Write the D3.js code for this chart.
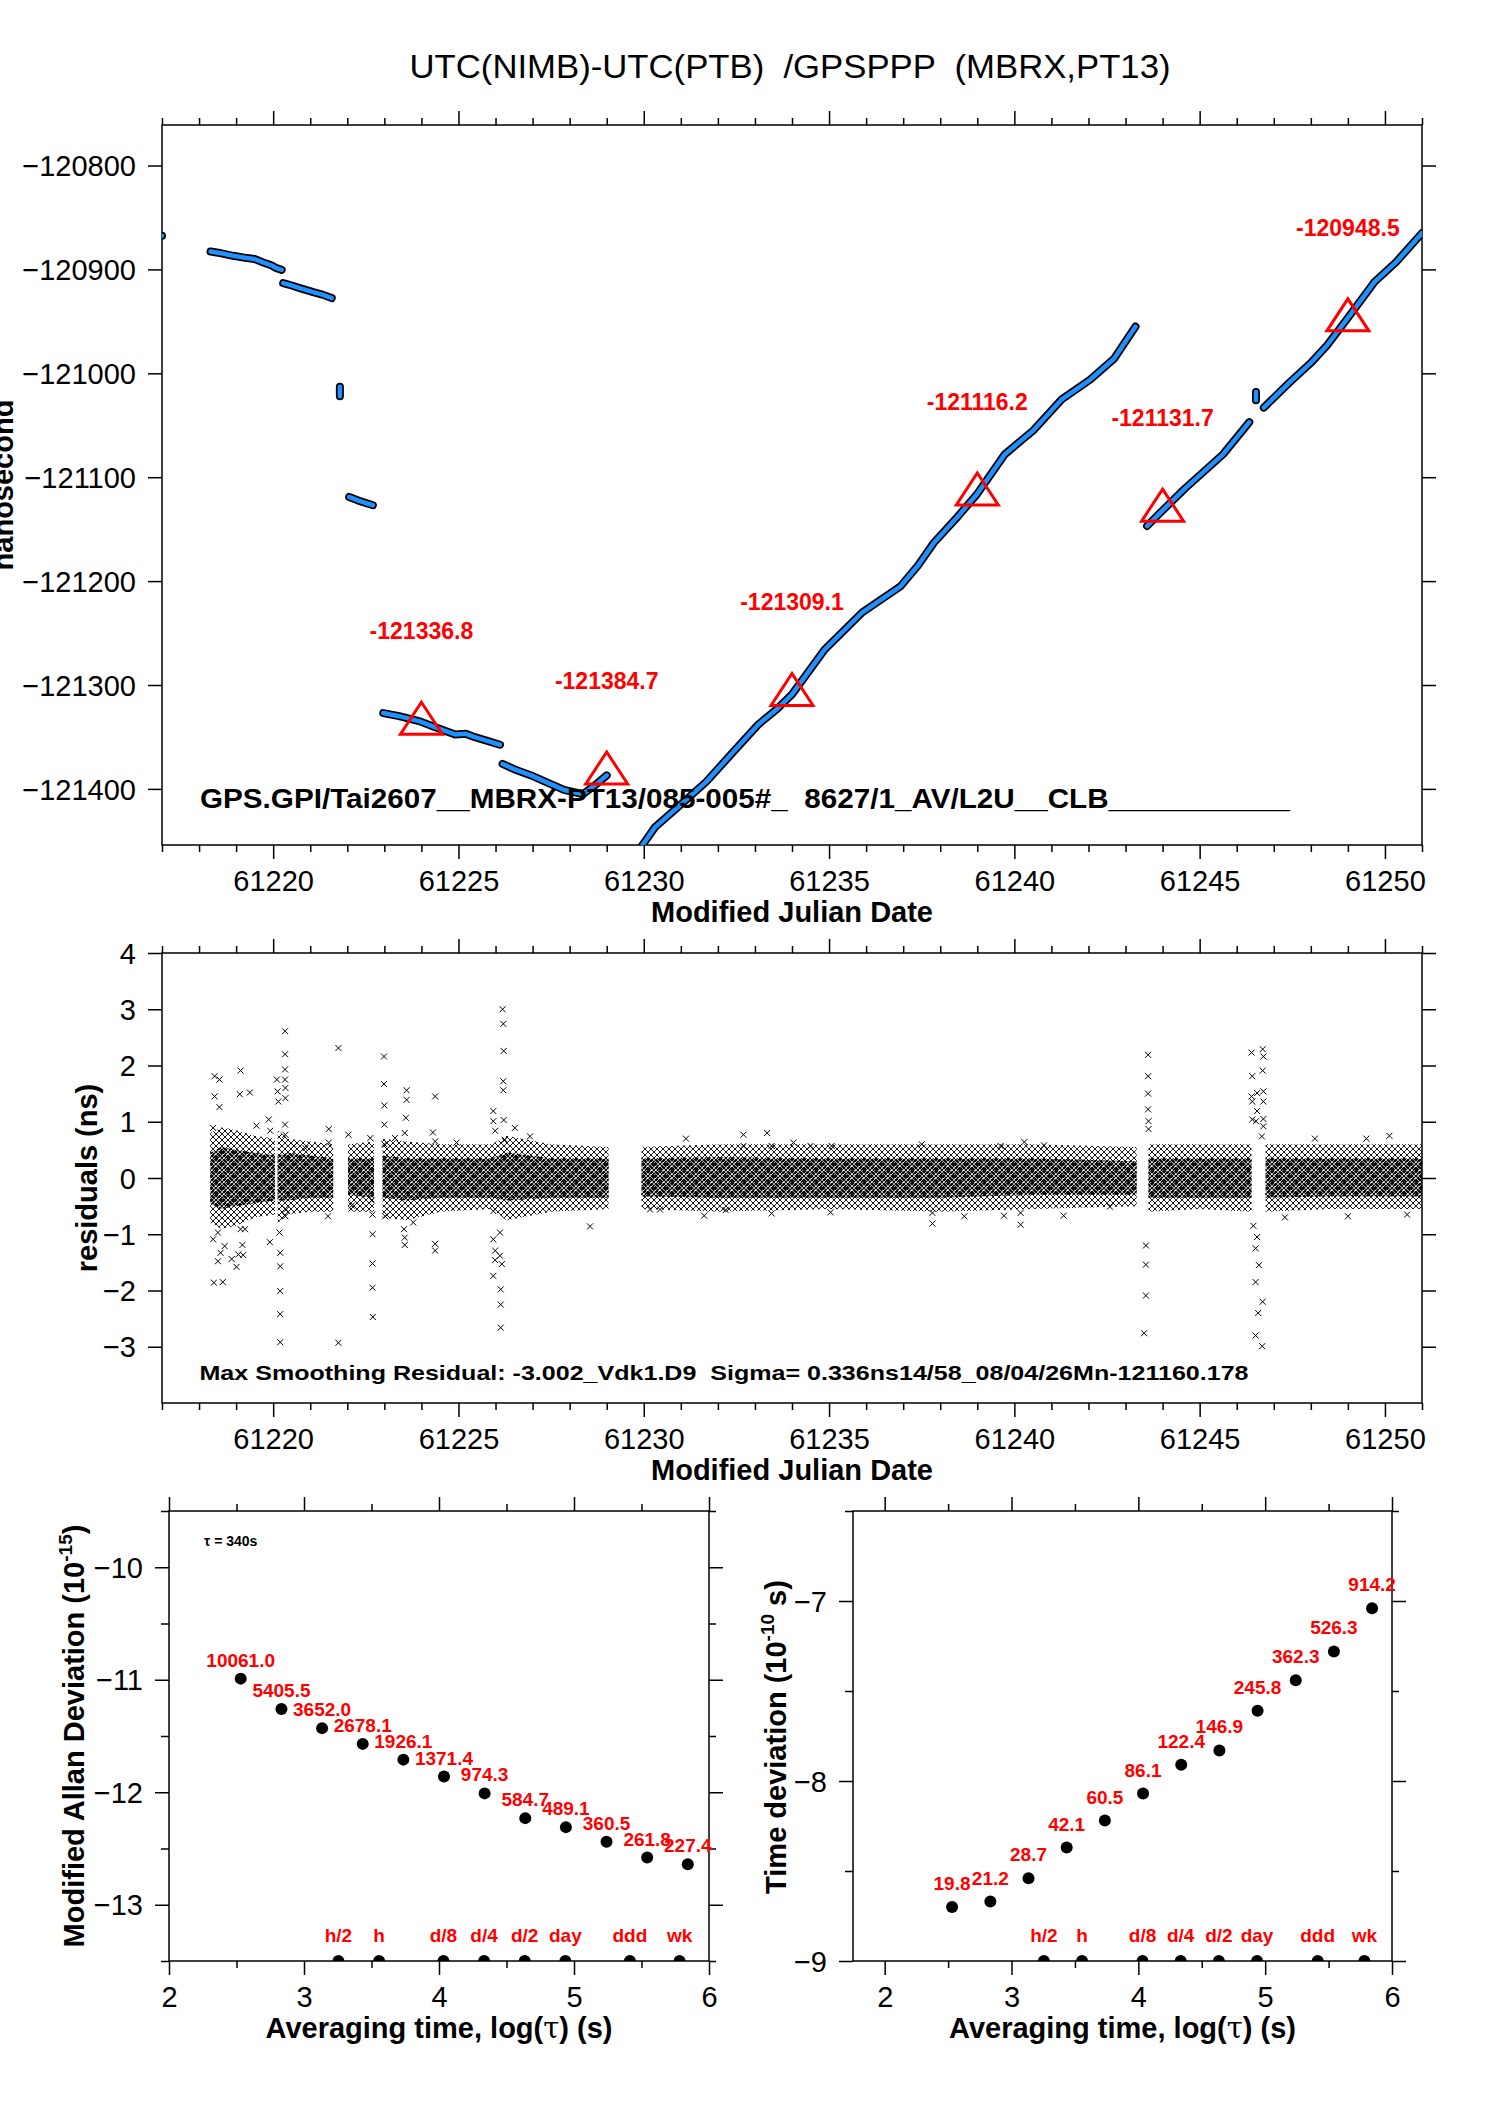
<!DOCTYPE html>
<html>
<head>
<meta charset="utf-8">
<script src="https://cdn.jsdelivr.net/npm/d3@7"></script>
<style>
body { margin: 0; background: #fff; }
svg { display: block; font-family: "Liberation Sans", Arial, sans-serif; }
</style>
</head>
<body>
<svg id="chart" width="1488" height="2105"></svg>
<script>
// ---- data ----
var titleText = "UTC(NIMB)-UTC(PTB)  /GPSPPP  (MBRX,PT13)";
var fileText = "GPS.GPI/Tai2607__MBRX-PT13/085-005#_  8627/1_AV/L2U__CLB___________";
var residText = "Max Smoothing Residual: -3.002_Vdk1.D9  Sigma= 0.336ns14/58_08/04/26Mn-121160.178";

var mjdMajor = [61220, 61225, 61230, 61235, 61240, 61245, 61250];
var nsTicks = [-121400, -121300, -121200, -121100, -121000, -120900, -120800];
var residTicks = [-3, -2, -1, 0, 1, 2, 3, 4];

// UTC(NIMB)-UTC(PTB) segments [mjd, ns]
var tsSegments = [
    [[61217.0, -120867.7]],
    [[61218.31, -120882.8], [61218.6, -120884.5], [61218.92, -120886.9], [61219.29, -120889.1], [61219.5, -120890], [61219.73, -120893.3], [61219.95, -120896], [61220.09, -120898.8], [61220.23, -120900.4]],
    [[61220.27, -120913.2], [61220.5, -120915.5], [61220.72, -120918], [61221.08, -120921.9], [61221.35, -120924.5], [61221.58, -120927.6]],
    [[61221.80, -121013], [61221.80, -121022]],
    [[61222.05, -121119], [61222.3, -121122.5], [61222.69, -121127]],
    [[61222.97, -121327], [61223.4, -121330], [61223.96, -121335], [61224.32, -121340], [61224.91, -121347.6], [61225.2, -121347], [61225.42, -121350], [61225.8, -121354], [61226.12, -121357.5]],
    [[61226.19, -121376], [61226.5, -121381], [61226.96, -121387], [61227.4, -121394], [61227.85, -121401], [61228.36, -121405], [61228.7, -121396], [61229.0, -121387]],
    [[61229.85, -121460], [61230.3, -121437], [61231.0, -121415], [61231.69, -121393], [61232.4, -121365], [61233.09, -121338], [61233.6, -121323], [61234.0, -121309], [61234.88, -121266], [61235.9, -121230], [61236.93, -121205], [61237.4, -121185], [61237.83, -121163], [61238.47, -121138], [61239.0, -121116], [61239.74, -121078], [61240.51, -121055], [61241.28, -121025], [61242.05, -121006], [61242.69, -120986], [61243.27, -120955]],
    [[61243.58, -121147], [61244.0, -121132], [61244.6, -121111], [61245.63, -121078], [61246.34, -121047]],
    [[61246.52, -121018], [61246.52, -121026]],
    [[61246.73, -121033], [61247.42, -121009], [61248.0, -120990], [61248.44, -120973], [61248.95, -120949], [61249.72, -120912], [61250.3, -120893], [61251.0, -120865]]
];

var markMjd = [61224, 61229, 61234, 61239, 61244, 61249];
var markNs = [-121336.8, -121384.7, -121309.1, -121116.2, -121131.7, -120948.5];

// residual band rows: [mjd, outerLo, outerHi, coreLo, coreHi]
var residBands = [
    [[61218.30, -0.8, 0.8, -0.45, 0.45], [61218.6, -0.9, 0.9, -0.55, 0.55], [61219.0, -0.85, 0.85, -0.5, 0.5], [61219.5, -0.7, 0.75, -0.45, 0.45], [61220.05, -0.65, 0.7, -0.4, 0.4]],
    [[61220.12, -0.8, 0.85, -0.4, 0.4], [61220.4, -0.65, 0.7, -0.4, 0.45], [61221.0, -0.6, 0.65, -0.35, 0.4], [61221.62, -0.6, 0.6, -0.35, 0.35]],
    [[61222.02, -0.6, 0.6, -0.3, 0.35], [61222.72, -0.6, 0.65, -0.35, 0.35]],
    [[61222.95, -0.7, 0.7, -0.35, 0.4], [61223.6, -0.75, 0.65, -0.4, 0.35], [61224.5, -0.6, 0.6, -0.35, 0.35], [61225.9, -0.55, 0.6, -0.35, 0.35], [61226.3, -0.75, 0.75, -0.4, 0.45], [61227.5, -0.6, 0.6, -0.35, 0.35], [61229.05, -0.55, 0.55, -0.35, 0.35]],
    [[61229.94, -0.55, 0.55, -0.33, 0.35], [61232, -0.6, 0.6, -0.35, 0.37], [61235, -0.55, 0.6, -0.35, 0.35], [61238, -0.6, 0.6, -0.35, 0.35], [61240.5, -0.55, 0.6, -0.3, 0.35], [61243.30, -0.5, 0.55, -0.3, 0.3]],
    [[61243.62, -0.6, 0.6, -0.35, 0.35], [61245, -0.55, 0.6, -0.35, 0.35], [61246.40, -0.6, 0.6, -0.35, 0.35]],
    [[61246.78, -0.6, 0.6, -0.35, 0.35], [61248.5, -0.55, 0.6, -0.33, 0.35], [61251, -0.55, 0.6, -0.33, 0.35]]
];

// single residuals standing out of the band [mjd, ns]
var residOutliers = [
    [61218.42, 1.81], [61218.55, 1.75], [61218.42, 1.45], [61218.55, 1.26], [61219.12, 1.91], [61219.10, 1.49], [61219.37, 1.52], [61218.38, 0.89], [61219.55, 0.93], [61219.88, 1.04], [61219.92, 0.84],
    [61220.10, 1.75], [61220.12, 1.54], [61220.14, 1.36], [61220.32, 2.61], [61220.32, 2.20], [61220.32, 1.93], [61220.32, 1.75], [61220.33, 1.60], [61220.33, 1.42], [61220.32, 0.95], [61220.33, 0.77],
    [61218.38, -1.09], [61218.51, -0.97], [61218.69, -1.21], [61218.51, -1.48], [61218.58, -1.33], [61218.40, -1.86], [61218.64, -1.85], [61218.88, -1.44], [61219.01, -1.58], [61219.06, -1.36], [61219.17, -1.19], [61219.19, -1.37], [61219.12, -0.91], [61219.24, -0.91], [61219.91, -1.14],
    [61220.17, -0.97], [61220.19, -1.33], [61220.19, -1.57], [61220.19, -2.01], [61220.19, -2.42], [61220.19, -2.92], [61220.33, -0.68], [61220.35, -0.56], [61220.56, 0.57], [61220.87, 0.53], [61221.50, 0.87], [61221.50, 0.63], [61221.48, -0.68],
    [61221.76, 2.31], [61221.76, -2.93], [61222.03, 0.77], [61222.12, -0.49], [61222.62, 0.71], [61222.66, -0.40], [61222.68, -0.65], [61222.68, -1.00], [61222.68, -1.52], [61222.68, -1.95], [61222.69, -2.47],
    [61222.99, 2.16], [61222.99, 1.67], [61223.00, 1.29], [61223.00, 0.95], [61223.00, 0.60], [61223.02, -0.68], [61223.29, 0.71], [61223.60, 1.56], [61223.60, 1.39], [61223.58, 1.07], [61223.55, 0.80], [61223.53, -0.91], [61223.55, -1.06], [61223.55, -1.19], [61223.78, -0.79],
    [61224.37, 1.45], [61224.31, 0.81], [61224.37, 0.65], [61224.37, -1.17], [61224.37, -1.29], [61224.95, 0.63],
    [61225.94, 1.19], [61225.94, 1.01], [61225.99, 0.84], [61226.19, 3.00], [61226.21, 2.74], [61226.22, 2.26], [61226.21, 1.72], [61226.21, 1.56], [61226.22, 1.03], [61226.25, 0.68], [61226.52, 0.89], [61226.93, 0.74],
    [61225.94, -0.59], [61225.94, -1.09], [61225.99, -1.29], [61225.99, -1.46], [61226.12, -0.97], [61226.12, -1.38], [61226.17, -1.53], [61225.94, -1.74], [61226.14, -1.98], [61226.14, -2.25], [61226.14, -2.66], [61228.55, -0.86],
    [61231.14, 0.70], [61232.69, 0.77], [61232.69, 0.57], [61233.33, 0.80], [61233.45, 0.57], [61234.04, 0.63], [61234.50, 0.57], [61235.07, 0.57], [61237.50, 0.60], [61239.63, 0.57], [61240.27, 0.64], [61240.80, 0.58],
    [61230.17, -0.56], [61230.44, -0.56], [61231.63, -0.67], [61232.21, -0.57], [61233.45, -0.63], [61235.04, -0.61], [61237.79, -0.81], [61237.79, -0.62], [61238.65, -0.68], [61239.72, -0.67], [61240.17, -0.83], [61240.17, -0.62], [61241.33, -0.67], [61242.58, -0.51],
    [61243.61, 2.19], [61243.61, 1.81], [61243.61, 1.50], [61243.61, 1.22], [61243.62, 1.01], [61243.62, 0.87], [61243.55, -1.20], [61243.55, -1.54], [61243.55, -2.09], [61243.50, -2.76],
    [61246.40, 2.23], [61246.70, 2.29], [61246.72, 2.16], [61246.42, 1.81], [61246.70, 1.91], [61246.55, 1.51], [61246.72, 1.54], [61246.72, 1.36], [61246.40, 1.45], [61246.42, 1.36], [61246.55, 1.19], [61246.52, 1.01], [61246.42, 1.04], [61246.72, 1.05], [61246.72, 0.92], [61246.68, 0.74],
    [61246.45, -0.85], [61246.55, -1.05], [61246.51, -1.25], [61246.60, -1.55], [61246.51, -1.85], [61246.70, -2.20], [61246.58, -2.40], [61246.51, -2.80], [61246.69, -2.99],
    [61248.11, 0.70], [61249.50, 0.70], [61250.12, 0.75], [61247.3, -0.70], [61249.0, -0.68], [61250.6, -0.65]
];

// stability (log10 tau)
var logTau = [2.531, 2.833, 3.134, 3.435, 3.736, 4.037, 4.338, 4.639, 4.940, 5.241, 5.542, 5.843];
var mdevLog = [-10.99, -11.26, -11.43, -11.57, -11.71, -11.86, -12.01, -12.23, -12.31, -12.44, -12.58, -12.64];
var mdevLabels = ["10061.0", "5405.5", "3652.0", "2678.1", "1926.1", "1371.4", "974.3", "584.7", "489.1", "360.5", "261.8", "227.4"];
var tdevLog = [-8.70, -8.67, -8.54, -8.37, -8.22, -8.07, -7.91, -7.83, -7.61, -7.44, -7.28, -7.04];
var tdevLabels = ["19.8", "21.2", "28.7", "42.1", "60.5", "86.1", "122.4", "146.9", "245.8", "362.3", "526.3", "914.2"];
var periodNames = ["h/2", "h", "d/8", "d/4", "d/2", "day", "ddd", "wk"];
var periodLog = [3.255, 3.556, 4.033, 4.334, 4.635, 4.936, 5.414, 5.782];

// ---- drawing ----
var svg = d3.select("#chart");
var defs = svg.append("defs");
var fmt = d3.format("d");

defs.append("pattern")
    .attr("id", "hatchOuter")
    .attr("patternUnits", "userSpaceOnUse")
    .attr("width", 6).attr("height", 6)
    .append("path")
    .attr("d", "M0,0L6,6M6,0L0,6")
    .attr("stroke", "#000")
    .attr("stroke-width", 0.9);

defs.append("pattern")
    .attr("id", "hatchCore")
    .attr("patternUnits", "userSpaceOnUse")
    .attr("width", 4).attr("height", 4)
    .append("path")
    .attr("d", "M0,0L4,4M4,0L0,4")
    .attr("stroke", "#000")
    .attr("stroke-width", 1.2);

function clip(id, xs, ys) {
    defs.append("clipPath").attr("id", id)
        .append("rect")
        .attr("x", xs.range()[0]).attr("y", ys.range()[1])
        .attr("width", xs.range()[1] - xs.range()[0])
        .attr("height", ys.range()[0] - ys.range()[1]);
    return "url(#" + id + ")";
}

function styleAxis(g) {
    g.select(".domain").remove();
    g.selectAll("line").attr("stroke", "#000").attr("stroke-width", 1.5);
    g.selectAll("text")
        .attr("fill", "#000")
        .style("font-size", "29px")
        .style("font-family", "\"Liberation Sans\", Arial, sans-serif");
}

// box with ticks on all four sides, labels left and bottom
function frame(xs, ys, o) {
    var x0 = xs.range()[0], x1 = xs.range()[1], y0 = ys.range()[1], y1 = ys.range()[0];
    var g = svg.append("g");

    g.append("rect")
        .attr("x", x0).attr("y", y0)
        .attr("width", x1 - x0).attr("height", y1 - y0)
        .attr("fill", "none").attr("stroke", "#000").attr("stroke-width", 1.5);

    var bottom = g.append("g").attr("transform", "translate(0," + y1 + ")")
        .call(d3.axisBottom(xs).tickValues(o.xMajor).tickSize(14).tickFormat(o.xFmt));
    bottom.selectAll("text").attr("y", 46).attr("dy", null);
    styleAxis(bottom);
    styleAxis(g.append("g").attr("transform", "translate(0," + y1 + ")")
        .call(d3.axisBottom(xs).tickValues(o.xMinor).tickSize(7).tickFormat("")));
    styleAxis(g.append("g").attr("transform", "translate(0," + y0 + ")")
        .call(d3.axisTop(xs).tickValues(o.xMajor).tickSize(14).tickFormat("")));
    styleAxis(g.append("g").attr("transform", "translate(0," + y0 + ")")
        .call(d3.axisTop(xs).tickValues(o.xMinor).tickSize(7).tickFormat("")));

    var left = g.append("g").attr("transform", "translate(" + x0 + ",0)")
        .call(d3.axisLeft(ys).tickValues(o.yMajor).tickSize(14).tickFormat(o.yFmt));
    left.selectAll("text").attr("x", -26).attr("dy", "0.35em");
    styleAxis(left);
    styleAxis(g.append("g").attr("transform", "translate(" + x1 + ",0)")
        .call(d3.axisRight(ys).tickValues(o.yMajor).tickSize(14).tickFormat("")));
    if (o.yMinor) {
        styleAxis(g.append("g").attr("transform", "translate(" + x0 + ",0)")
            .call(d3.axisLeft(ys).tickValues(o.yMinor).tickSize(8).tickFormat("")));
        styleAxis(g.append("g").attr("transform", "translate(" + x1 + ",0)")
            .call(d3.axisRight(ys).tickValues(o.yMinor).tickSize(7).tickFormat("")));
    }
}

function label(x, y, txt, size, weight, rotate, len) {
    var t = svg.append("text")
        .attr("transform", "translate(" + x + "," + y + ")" + (rotate ? " rotate(-90)" : ""))
        .attr("text-anchor", "middle")
        .style("font-size", size + "px")
        .style("font-weight", weight)
        .style("white-space", "pre")
        .text(txt);
    if (len) t.attr("textLength", len).attr("lengthAdjust", "spacingAndGlyphs");
    return t;
}

// title
label(790, 78, titleText, 34, "normal", false, 761);

// ===== top panel: time series =====
var xMjd = d3.scaleLinear().domain([61217, 61251]).range([162, 1422]);
var yNs = d3.scaleLinear().domain([-121454, -120761]).range([845, 125]);
var mjdMinor = d3.range(61217, 61252).filter(function(d) { return d % 5 !== 0; });

frame(xMjd, yNs, { xMajor: mjdMajor, xMinor: mjdMinor, xFmt: fmt, yMajor: nsTicks, yFmt: fmt });

var topG = svg.append("g").attr("clip-path", clip("clipTop", xMjd, yNs));
var nsLine = d3.line()
    .x(function(d) { return xMjd(d[0]); })
    .y(function(d) { return yNs(d[1]); });

var multi = tsSegments.filter(function(s) { return s.length > 1; });
var single = tsSegments.filter(function(s) { return s.length === 1; });

[["#000", 8], ["#1e90ff", 4.5]].forEach(function(st) {
    topG.selectAll(null)
        .data(multi)
        .enter().append("path")
        .attr("d", nsLine)
        .attr("fill", "none")
        .attr("stroke", st[0])
        .attr("stroke-width", st[1])
        .attr("stroke-linejoin", "round")
        .attr("stroke-linecap", "round");
    topG.selectAll(null)
        .data(single)
        .enter().append("circle")
        .attr("cx", function(d) { return xMjd(d[0][0]); })
        .attr("cy", function(d) { return yNs(d[0][1]); })
        .attr("r", st[1] / 2)
        .attr("fill", st[0]);
});

var triangle = {
    draw: function(ctx) {
        ctx.moveTo(0, -21);
        ctx.lineTo(21, 11);
        ctx.lineTo(-21, 11);
        ctx.closePath();
    }
};

svg.append("g").selectAll("path")
    .data(markMjd)
    .enter().append("path")
    .attr("d", d3.symbol().type(triangle))
    .attr("transform", function(d, i) { return "translate(" + xMjd(d) + "," + yNs(markNs[i]) + ")"; })
    .attr("fill", "none")
    .attr("stroke", "#ff0000")
    .attr("stroke-width", 3);

svg.append("g").selectAll("text")
    .data(markMjd)
    .enter().append("text")
    .attr("x", function(d) { return xMjd(d); })
    .attr("y", function(d, i) { return yNs(markNs[i]) - 84; })
    .attr("text-anchor", "middle")
    .attr("fill", "#ff0000")
    .style("font-size", "23px")
    .style("font-weight", "bold")
    .text(function(d, i) { return markNs[i].toFixed(1); });

label(745, 808, fileText, 27, "bold", false, 1090);
label(792, 922, "Modified Julian Date", 29, "bold");
label(13, 485, "nanosecond", 29, "bold", true);

// ===== middle panel: residuals =====
var yRes = d3.scaleLinear().domain([-4, 4]).range([1403, 953]);

frame(xMjd, yRes, { xMajor: mjdMajor, xMinor: mjdMinor, xFmt: fmt, yMajor: residTicks, yFmt: fmt });

var midG = svg.append("g").attr("clip-path", clip("clipMid", xMjd, yRes));
var outerArea = d3.area()
    .x(function(d) { return xMjd(d[0]); })
    .y0(function(d) { return yRes(d[1]); })
    .y1(function(d) { return yRes(d[2]); });
var coreArea = d3.area()
    .x(function(d) { return xMjd(d[0]); })
    .y0(function(d) { return yRes(d[3]); })
    .y1(function(d) { return yRes(d[4]); });

midG.selectAll(".outer")
    .data(residBands)
    .enter().append("path")
    .attr("class", "outer")
    .attr("d", outerArea)
    .attr("fill", "url(#hatchOuter)");
midG.selectAll(".core")
    .data(residBands)
    .enter().append("path")
    .attr("class", "core")
    .attr("d", coreArea)
    .attr("fill", "url(#hatchCore)");

midG.selectAll(".cross")
    .data(residOutliers)
    .enter().append("path")
    .attr("class", "cross")
    .attr("d", "M-3,-3L3,3M-3,3L3,-3")
    .attr("transform", function(d) { return "translate(" + xMjd(d[0]) + "," + yRes(d[1]) + ")"; })
    .attr("stroke", "#000")
    .attr("stroke-width", 1)
    .attr("fill", "none");

label(724, 1380, residText, 21, "bold", false, 1049);
label(792, 1480, "Modified Julian Date", 29, "bold");
label(97, 1178, "residuals (ns)", 29, "bold", true);

// ===== bottom panels: MDEV and TDEV =====
function stabilityPanel(id, xs, ys, vals, labs, labOff, yMajor, yMinor) {
    var xMajor = [2, 3, 4, 5, 6];
    var xMinor = [2.5, 3.5, 4.5, 5.5];
    frame(xs, ys, { xMajor: xMajor, xMinor: xMinor, xFmt: fmt, yMajor: yMajor, yMinor: yMinor, yFmt: fmt });

    var g = svg.append("g");
    var cg = g.append("g").attr("clip-path", clip(id, xs, ys));

    cg.selectAll(".pt")
        .data(logTau)
        .enter().append("circle")
        .attr("class", "pt")
        .attr("cx", function(d) { return xs(d); })
        .attr("cy", function(d, i) { return ys(vals[i]); })
        .attr("r", 6)
        .attr("fill", "#000");

    cg.selectAll(".period")
        .data(periodLog)
        .enter().append("circle")
        .attr("class", "period")
        .attr("cx", function(d) { return xs(d); })
        .attr("cy", ys.range()[0])
        .attr("r", 6)
        .attr("fill", "#000");

    g.selectAll(".ptlab")
        .data(logTau)
        .enter().append("text")
        .attr("x", function(d) { return xs(d); })
        .attr("y", function(d, i) { return ys(vals[i]) - labOff; })
        .attr("text-anchor", "middle")
        .attr("fill", "#ff0000")
        .style("font-size", "19px")
        .style("font-weight", "bold")
        .text(function(d, i) { return labs[i]; });

    g.selectAll(".perlab")
        .data(periodLog)
        .enter().append("text")
        .attr("x", function(d) { return xs(d); })
        .attr("y", ys.range()[0] - 19)
        .attr("text-anchor", "middle")
        .attr("fill", "#ff0000")
        .style("font-size", "19px")
        .style("font-weight", "bold")
        .text(function(d, i) { return periodNames[i]; });

    var xl = label((xs.range()[0] + xs.range()[1]) / 2, 2038, "", 29, "bold");
    xl.append("tspan").text("Averaging time, log(");
    xl.append("tspan").style("font-family", "\"DejaVu Serif\", serif").style("font-weight", "normal").text("\u03c4");
    xl.append("tspan").text(") (s)");
}

var xTauL = d3.scaleLinear().domain([2, 6]).range([169, 709]);
var yMdev = d3.scaleLinear().domain([-13.5, -9.5]).range([1961, 1511]);
stabilityPanel("clipMdev", xTauL, yMdev, mdevLog, mdevLabels, 12, [-13, -12, -11, -10], [-13.5, -12.5, -11.5, -10.5, -9.5]);

var xTauR = d3.scaleLinear().domain([1.75, 6]).range([853, 1392]);
var yTdev = d3.scaleLinear().domain([-9, -6.5]).range([1961, 1511]);
stabilityPanel("clipTdev", xTauR, yTdev, tdevLog, tdevLabels, 17, [-9, -8, -7], [-8.5, -7.5, -6.5]);

svg.append("text")
    .attr("x", 204).attr("y", 1546)
    .style("font-size", "14px")
    .style("font-weight", "bold")
    .style("white-space", "pre")
    .text("\u03c4 = 340s");

var ylL = label(84, 1736, "", 29, "bold", true);
ylL.append("tspan").text("Modified Allan Deviation (10");
ylL.append("tspan").attr("dy", -12).style("font-size", "19px").text("-15");
ylL.append("tspan").attr("dy", 12).text(")");

var ylR = label(786, 1737, "", 29, "bold", true);
ylR.append("tspan").text("Time deviation (10");
ylR.append("tspan").attr("dy", -12).style("font-size", "19px").text("-10");
ylR.append("tspan").attr("dy", 12).text(" s)");
</script>
</body>
</html>
